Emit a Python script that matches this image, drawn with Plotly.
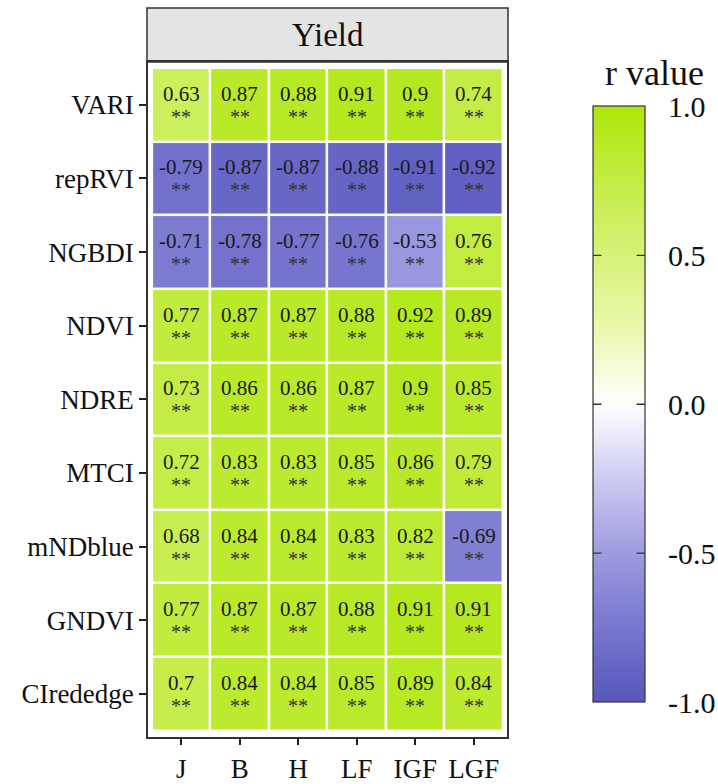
import plotly.graph_objects as go

# Correlation (r) between vegetation indices and yield at each growth stage
stages = ["J", "B", "H", "LF", "IGF", "LGF"]
indices = ["VARI", "repRVI", "NGBDI", "NDVI", "NDRE", "MTCI", "mNDblue", "GNDVI", "CIrededge"]

VARI = [0.63, 0.87, 0.88, 0.91, 0.9, 0.74]
repRVI = [-0.79, -0.87, -0.87, -0.88, -0.91, -0.92]
NGBDI = [-0.71, -0.78, -0.77, -0.76, -0.53, 0.76]
NDVI = [0.77, 0.87, 0.87, 0.88, 0.92, 0.89]
NDRE = [0.73, 0.86, 0.86, 0.87, 0.9, 0.85]
MTCI = [0.72, 0.83, 0.83, 0.85, 0.86, 0.79]
mNDblue = [0.68, 0.84, 0.84, 0.83, 0.82, -0.69]
GNDVI = [0.77, 0.87, 0.87, 0.88, 0.91, 0.91]
CIrededge = [0.7, 0.84, 0.84, 0.85, 0.89, 0.84]

# significance marks per cell
signif = ["**"] * len(stages)

cbar_ticks = [-1.0, -0.5, 0.0, 0.5, 1.0]
cbar_ticktext = ["-1.0", "-0.5", "0.0", "0.5", "1.0"]

rows = [VARI, repRVI, NGBDI, NDVI, NDRE, MTCI, mNDblue, GNDVI, CIrededge]
sig_rows = [signif for _ in rows]

W, H = 718, 784
FONT = "Liberation Serif"

colorscale = [
    [0.000, "rgb(86,86,188)"],
    [0.125, "rgb(120,118,206)"],
    [0.250, "rgb(158,155,224)"],
    [0.375, "rgb(205,203,241)"],
    [0.500, "rgb(255,255,255)"],
    [0.625, "rgb(234,248,174)"],
    [0.750, "rgb(214,242,120)"],
    [0.875, "rgb(195,236,66)"],
    [1.000, "rgb(174,230,12)"],
]

# colorbar geometry (pixels)
cb_left, cb_right, cb_top, cb_bottom = 593, 645, 108, 712

fig = go.Figure()
fig.add_trace(go.Heatmap(
    z=rows,
    x=stages,
    y=indices,
    zmin=-1, zmax=1,
    colorscale=colorscale,
    xgap=2.5, ygap=2.5,
    hoverongaps=False,
    colorbar=dict(
        x=cb_left / W, xanchor="left", xpad=0,
        y=1 - (cb_top + cb_bottom) / 2 / H, yanchor="middle", ypad=0,
        len=(cb_bottom - cb_top) / H, lenmode="fraction",
        thickness=cb_right - cb_left,
        outlinewidth=1.2, outlinecolor="#333333",
        tickvals=cbar_ticks, ticktext=cbar_ticktext,
        ticks="outside", ticklen=17, tickcolor="rgba(0,0,0,0)",
        tickfont=dict(family=FONT, size=30, color="#111111"),
    ),
))

annotations = []
for r, (name, vals, sigs) in enumerate(zip(indices, rows, sig_rows)):
    for c, (stage, v, s) in enumerate(zip(stages, vals, sigs)):
        annotations.append(dict(
            x=stage, y=name, xref="x", yref="y", text=f"{v}",
            showarrow=False, yshift=11,
            font=dict(family=FONT, size=21, color="#1a1a1a"),
        ))
        annotations.append(dict(
            x=stage, y=name, xref="x", yref="y", text=s,
            showarrow=False, yshift=-12,
            font=dict(family=FONT, size=20, color="#333333"),
        ))

# facet strip label
strip_x0, strip_x1, strip_y0, strip_y1 = 147, 508, 8, 63
annotations.append(dict(
    x=(strip_x0 + strip_x1) / 2 / W, y=1 - (strip_y0 + strip_y1) / 2 / H,
    xref="paper", yref="paper", text="Yield", showarrow=False,
    xanchor="center", yanchor="middle",
    font=dict(family=FONT, size=33, color="#111111"),
))
# legend title
annotations.append(dict(
    x=654 / W, y=1 - 74 / H, xref="paper", yref="paper", text="r value",
    showarrow=False, xanchor="center", yanchor="middle",
    font=dict(family=FONT, size=36, color="#111111"),
))

# inner tick marks on both sides of the colorbar (drawn as arrow-only annotations)
for v in cbar_ticks[1:-1]:
    ypx = cb_bottom - (v + 1) / 2 * (cb_bottom - cb_top)
    yp = 1 - ypx / H
    for xa, dx in ((cb_left, 10), (cb_right, -10)):
        annotations.append(dict(
            x=xa / W, y=yp, xref="paper", yref="paper", text="",
            showarrow=True, arrowhead=0, arrowwidth=1.3, arrowcolor="#333333",
            ax=dx, ay=0, standoff=0, startstandoff=0,
        ))

shapes = [dict(
    type="rect", xref="paper", yref="paper",
    x0=strip_x0 / W, x1=strip_x1 / W,
    y0=1 - strip_y1 / H, y1=1 - strip_y0 / H,
    fillcolor="#e4e4e4", line=dict(color="#333333", width=1.5), layer="below",
)]

fig.update_layout(
    width=W, height=H,
    margin=dict(l=0, r=0, t=0, b=0),
    paper_bgcolor="white", plot_bgcolor="white",
    annotations=annotations, shapes=shapes,
    xaxis=dict(
        domain=[148 / W, 507 / W],
        range=[-0.57, len(stages) - 0.43],
        categoryorder="array", categoryarray=stages,
        showline=True, mirror=True, linecolor="#333333", linewidth=1.5,
        ticks="outside", ticklen=7, tickwidth=1.5, tickcolor="#222222",
        tickfont=dict(family=FONT, size=27, color="#111111"),
        showgrid=False, zeroline=False, fixedrange=True,
    ),
    yaxis=dict(
        domain=[1 - 747 / H, 1 - 63 / H],
        range=[-0.58, len(indices) - 0.42],
        categoryorder="array", categoryarray=indices[::-1],
        showline=True, mirror=True, linecolor="#333333", linewidth=1.5,
        ticks="outside", ticklen=7, tickwidth=1.5, tickcolor="#222222",
        tickfont=dict(family=FONT, size=27, color="#111111"),
        showgrid=False, zeroline=False, fixedrange=True,
    ),
)

fig.write_html("out.html")
